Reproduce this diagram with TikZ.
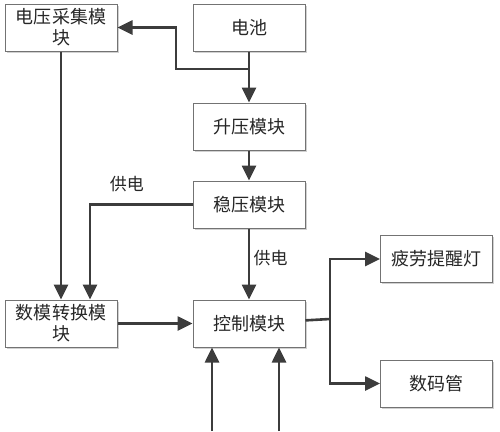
\documentclass[tikz,border=0pt]{standalone}
\usepackage{fontspec}
\setmainfont{Noto Sans CJK SC}
\usetikzlibrary{positioning, arrows.meta, shadows}
\definecolor{linegray}{RGB}{60,60,60}
\tikzset{
    block/.style={draw=black!55, line width=1pt, fill=white, minimum width=112pt, minimum height=47pt,
      align=center, inner sep=1pt, font=\fontsize{18}{21}\selectfont, text=black!85,
      drop shadow={shadow xshift=1.5pt, shadow yshift=-1.5pt, fill=black!30, opacity=0.6}},
    wire/.style={draw=linegray, line width=2.6pt},
    link/.append style={wire, -{Triangle[length=15pt, width=14pt]}},
    tag/.style={font=\fontsize{17}{19}\selectfont, text=black!85},
}
\begin{document}
\begin{tikzpicture}[x=1pt, y=-1pt]
    \useasboundingbox (0,0) rectangle (500,431);

    \node[block] (battery) at (249,27.5) {电池};
    \node[block, below=51pt of battery] (boost) {升压模块};
    \node[block, below=30pt of boost] (stab) {稳压模块};
    \node[block, below=71pt of stab] (ctrl) {控制模块};
    \node[block, left=75pt of ctrl] (adc) {数模转换模\\块};
    \node[block] (vsample) at (adc |- battery) {电压采集模\\块};
    \node[block] (lamp) at (436.5,259) {疲劳提醒灯};
    \node[block] (tube) at (436.5,383.5) {数码管};

    \coordinate (tap) at (249,69);
    \coordinate (fork) at (330,319);
    \coordinate (in1) at (212,431);
    \coordinate (in2) at (279,431);

    \draw[link] (battery) -- (boost);
    \draw[link] (tap) -- ++(-73,0) |- (vsample.east);
    \draw[link] (boost) -- (stab);
    \draw[link] (stab.west) -| node[tag, pos=0.32, above=8pt] {供电} ([xshift=29pt]adc.north);
    \draw[link] (stab) -- node[tag, right, pos=0.42] {供电} (ctrl);
    \draw[link] (vsample) -- (adc);
    \draw[link] (adc) -- (ctrl);
    \draw[wire] (ctrl) -- (fork);
    \draw[link] (fork) |- (lamp);
    \draw[link] (fork) |- (tube);
    \draw[link] (in1) -- (in1 |- ctrl.south);
    \draw[link] (in2) -- (in2 |- ctrl.south);
\end{tikzpicture}
\end{document}
